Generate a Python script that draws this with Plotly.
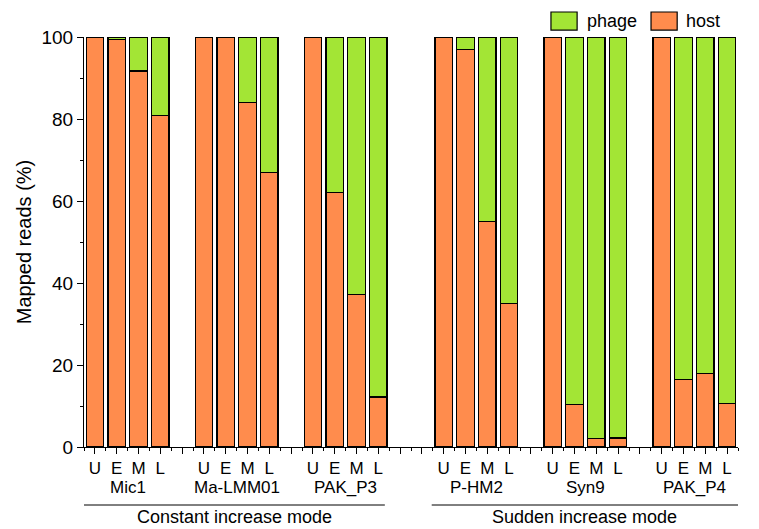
import plotly.graph_objects as go

# ---- data ----
phages = ["Mic1", "Ma-LMM01", "PAK_P3", "P-HM2", "Syn9", "PAK_P4"]
stages = ["U", "E", "M", "L"]
host = [
    [100, 99.3, 91.7, 80.8],   # Mic1
    [100, 99.8, 84.0, 67.0],   # Ma-LMM01
    [100, 62.0, 37.2, 12.2],   # PAK_P3
    [100, 97.0, 55.0, 35.0],   # P-HM2
    [100, 10.3, 2.0, 2.2],     # Syn9
    [100, 16.4, 18.0, 10.6],   # PAK_P4
]
phage = [
    [0, 0.7, 8.3, 19.2],
    [0, 0.2, 16.0, 33.0],
    [0, 38.0, 62.8, 87.8],
    [0, 3.0, 45.0, 65.0],
    [0, 89.7, 98.0, 97.8],
    [0, 83.6, 82.0, 89.4],
]
modes = ["Constant increase mode", "Sudden increase mode"]

# ---- layout helpers ----
group_starts = [0, 5, 10, 16, 21, 26]
FONT = "Liberation Sans, Arial, sans-serif"
ORANGE = "#FF8C4D"
GREEN = "#A3E535"

xs, hv, pv, labels = [], [], [], []
for gi, g0 in enumerate(group_starts):
    for si, s in enumerate(stages):
        xs.append(g0 + si)
        hv.append(host[gi][si])
        pv.append(phage[gi][si])
        labels.append(s)

fig = go.Figure()
fig.add_trace(go.Bar(x=xs, y=hv, name="host", width=0.8,
                     marker=dict(color=ORANGE, line=dict(color="black", width=1.2))))
fig.add_trace(go.Bar(x=xs, y=pv, name="phage", width=0.8,
                     marker=dict(color=GREEN, line=dict(color="black", width=1.2))))

xmax = group_starts[-1] + len(stages) - 1
tickvals = list(range(0, xmax + 1))
ticktext = [labels[xs.index(v)] if v in xs else "" for v in tickvals]

fig.update_layout(
    barmode="stack",
    width=759, height=529,
    margin=dict(l=76, r=29, t=29, b=90),
    paper_bgcolor="white", plot_bgcolor="white",
    showlegend=False,
    font=dict(family=FONT, size=18, color="black"),
    xaxis=dict(range=[-0.5, xmax + 0.5], tickmode="array", tickvals=tickvals,
               ticktext=ticktext, ticks="outside", ticklen=6, tickwidth=1,
               tickcolor="black", showline=True, linecolor="black", linewidth=1,
               showgrid=False, zeroline=False, tickfont=dict(size=17),
               minor=dict(tickmode="array", tickvals=[v + 0.5 for v in range(-1, xmax + 1)],
                          ticks="outside", ticklen=3, tickcolor="black")),
    yaxis=dict(range=[0, 100], tickmode="linear", tick0=0, dtick=20,
               ticks="outside", ticklen=6, tickwidth=1, tickcolor="black",
               showline=True, linecolor="black", linewidth=1,
               showgrid=False, zeroline=False, tickfont=dict(size=19),
               title=dict(text="Mapped reads (%)", standoff=4, font=dict(size=20)),
               minor=dict(tickmode="linear", tick0=0, dtick=10, ticks="outside",
                          ticklen=3, tickcolor="black")),
)

# group names
for gi, g0 in enumerate(group_starts):
    fig.add_annotation(x=g0 + 1.5, xref="x", y=-0.0976, yref="paper",
                       text=phages[gi], showarrow=False, yanchor="middle",
                       font=dict(size=17))

# mode lines and labels
mode_spans = [(-0.5, 13.3), (15.45, 29.5)]
for (a, b), m in zip(mode_spans, modes):
    fig.add_shape(type="line", xref="x", yref="paper", x0=a, x1=b,
                  y0=-0.1415, y1=-0.1415, line=dict(color="black", width=1))
    fig.add_annotation(x=(a + b) / 2, xref="x", y=-0.1995, yref="paper",
                       text=m, showarrow=False, yanchor="bottom", font=dict(size=18))

# legend drawn manually
leg = [("phage", GREEN, 0.714, 0.754, 0.766), ("host", ORANGE, 0.867, 0.907, 0.918)]
for name, col, x0, x1, xt in leg:
    fig.add_shape(type="rect", xref="paper", yref="paper", x0=x0, x1=x1,
                  y0=1.017, y1=1.061, fillcolor=col, line=dict(color="black", width=1.2))
    fig.add_annotation(x=xt, xref="paper", y=1.039, yref="paper", text=name,
                       showarrow=False, xanchor="left", yanchor="middle",
                       font=dict(size=18))

fig.write_html("out.html")
